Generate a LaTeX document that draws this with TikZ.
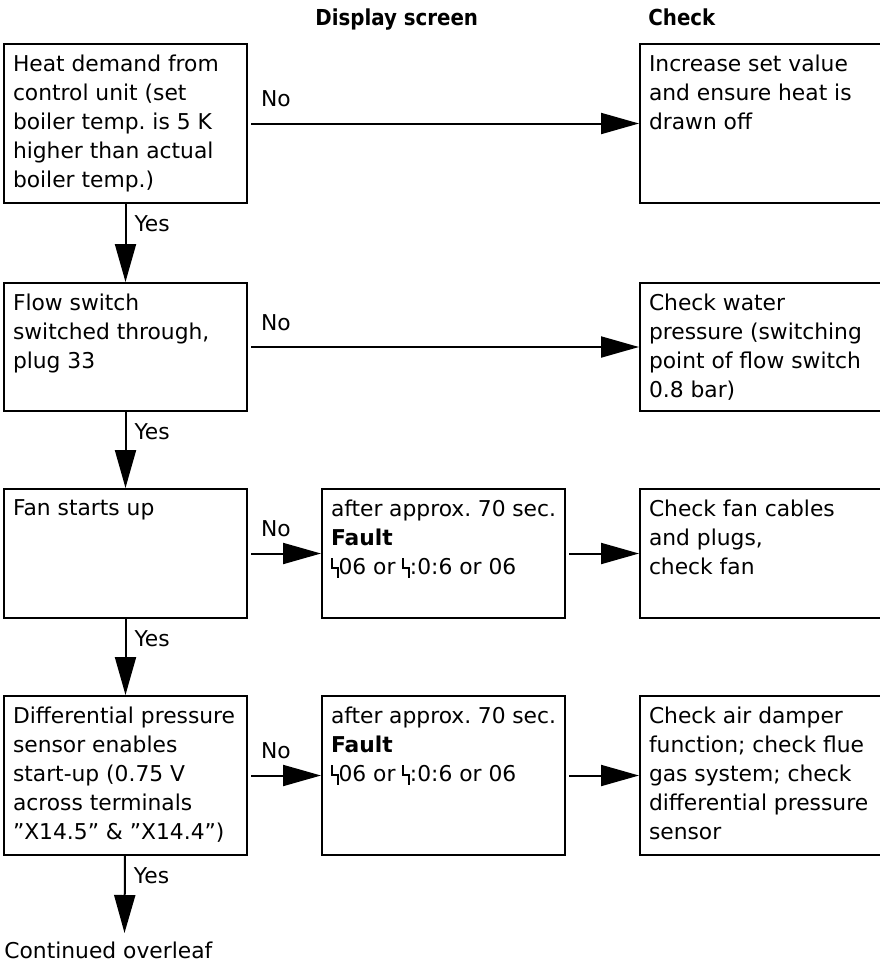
\documentclass[tikz,border=0pt]{standalone}
\usepackage{fontspec}
\setmainfont{DejaVu Sans}
\newfontfamily\headfont{DejaVu Sans Condensed}
\usepackage{tikz}
\usetikzlibrary{arrows.meta}
\frenchspacing

\newdimen\pxunit \pxunit=0.5pt
\newcommand{\cell}[3]{\parbox[t][#2\pxunit][t]{#1\pxunit}{\raggedright #3}}
\newcommand{\fsym}{\tikz[baseline=0pt,line width=0.085em]\draw (0.04em,0.74em) -- (0.04em,0.3em) -- (0.3em,0.3em) -- (0.3em,-0.16em);}

\begin{document}
\begin{tikzpicture}[x=0.5pt,y=-0.5pt,
  every node/.style={font=\fontsize{10.9pt}{14.5pt}\selectfont},
  stepbox/.style={draw,line width=1pt,anchor=north west,inner xsep=4.5pt,inner ysep=5.5pt},
  flow/.style={line width=1pt,-{Triangle[length=19pt,width=10.5pt]}},
  noflow/.style={flow,shorten <=1.5pt},
  yeslbl/.style={pos=0,anchor=north west,inner sep=0pt,xshift=4pt,yshift=-5.5pt},
  nolbl/.style={pos=0,anchor=base west,inner sep=0pt,xshift=6pt,yshift=8.5pt},
  head/.style={font=\fontsize{11pt}{13pt}\headfont\bfseries,anchor=base west,inner sep=0pt}]
\useasboundingbox (0,0) rectangle (879,964);
% column heads
\node[head] (dispcol) at (315,25) {Display screen};
\node[head] (checkcol) at (648,25) {Check};
% left column
\node[stepbox] (demand) at (3,43) {\cell{225}{137}{Heat demand from\\control unit (set\\boiler temp. is 5 K\\higher than actual\\boiler temp.)}};
\node[stepbox] (flowsw) at (3,282) {\cell{225}{106}{Flow switch\\switched through,\\plug 33}};
\node[stepbox] (fan) at (3,488) {\cell{225}{107}{Fan starts up}};
\node[stepbox] (diffp) at (3,695) {\cell{225}{137}{Differential~pressure\\sensor enables\\start-up (0.75 V\\across terminals\\''X14.5'' \& ''X14.4'')}};
% display screen
\node[stepbox] (faultA) at (321,488) {\cell{225}{107}{after~approx.~70~sec.\\\textbf{Fault}\\\fsym06 or \fsym:0:6 or 06}};
\node[stepbox] (faultB) at (321,695) {\cell{225}{137}{after~approx.~70~sec.\\\textbf{Fault}\\\fsym06 or \fsym:0:6 or 06}};
% check
\node[stepbox] (incr) at (639,43) {\cell{232}{137}{Increase set value\\and ensure heat is\\drawn off}};
\node[stepbox] (waterp) at (639,282) {\cell{232}{106}{Check water\\pressure (switching\\point~of~flow~switch\\0.8 bar)}};
\node[stepbox] (fancheck) at (639,488) {\cell{232}{107}{Check fan cables\\and plugs,\\check fan}};
\node[stepbox] (dampercheck) at (639,695) {\cell{232}{137}{Check air damper\\function; check flue\\gas system; check\\differential~pressure\\sensor}};
\coordinate (contarrow) at (124.5,933);
\node[anchor=base west,inner sep=0pt] (cont) at (4,958) {Continued overleaf};
% connectors
\draw[noflow] (demand) -- node[nolbl]{No} (incr);
\draw[noflow] (flowsw) -- node[nolbl]{No} (waterp);
\draw[noflow] (fan) -- node[nolbl]{No} (faultA);
\draw[noflow] (diffp) -- node[nolbl]{No} (faultB);
\draw[noflow] (faultA) -- (fancheck);
\draw[noflow] (faultB) -- (dampercheck);
\draw[flow] (demand) -- node[yeslbl]{Yes} (flowsw);
\draw[flow] (flowsw) -- node[yeslbl]{Yes} (fan);
\draw[flow] (fan) -- node[yeslbl]{Yes} (diffp);
\draw[flow] (diffp) -- node[yeslbl]{Yes} (contarrow);
\end{tikzpicture}
\end{document}
